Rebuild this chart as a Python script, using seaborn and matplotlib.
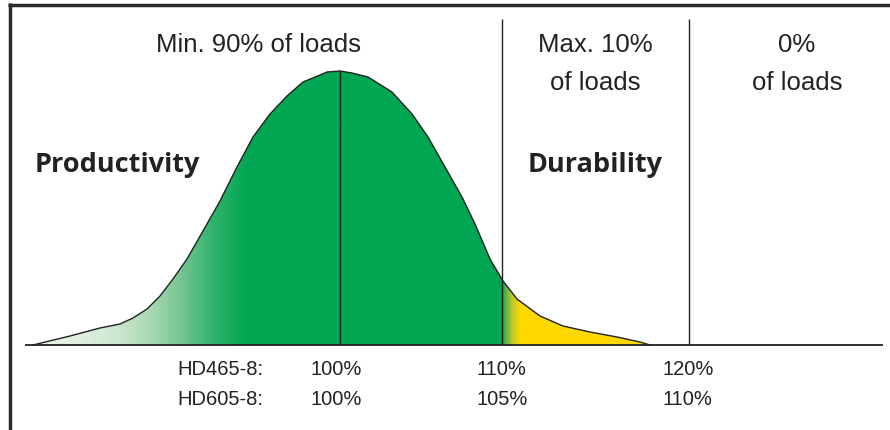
import numpy as np
import pandas as pd
import matplotlib
matplotlib.use("Agg")
import matplotlib.pyplot as plt
import seaborn as sns

# ---- data (x position along load axis, curve height) ----
curve_x = [33, 70, 100, 120, 133, 147, 160, 173, 187, 203, 220, 237, 253, 270, 287,
           303, 320, 327, 340, 352, 368, 392, 412, 428, 445, 462, 475, 490, 503, 517,
           540, 563, 590, 617, 640, 650]
curve_h = [0, 9, 17, 21, 27, 36, 49, 66, 86, 114, 144, 178, 208, 231, 249,
           263, 270, 273, 274, 272, 268, 253, 231, 208, 178, 148, 121, 86, 64, 46,
           29, 19, 13, 8, 3, 0]

peak_x = 340
limit_x = [502, 689]

zone_titles = ["Min. 90% of loads", "Max. 10%", "0%"]
zone_sub = ["of loads", "of loads"]
zone_names = ["Productivity", "Durability"]
models = ["HD465-8:", "HD605-8:"]
row_hd465 = ["100%", "110%", "120%"]
row_hd605 = ["100%", "105%", "110%"]

GREEN = "#00a651"
YELLOW = "#ffd800"

sns.set_theme(style="white")
plt.rcParams["font.family"] = ["Liberation Sans", "DejaVu Sans"]

fig = plt.figure(figsize=(8.9, 4.31), dpi=100)
ax = fig.add_axes([0, 0, 1, 1])
ax.set_axis_off()

df = pd.DataFrame({"x": curve_x, "h": curve_h})

# gradient fill clipped to the curve
stops_x = [33, 80, 120, 150, 180, 215, 248, 502, 506, 512, 520, 650]
stops_c = ["#eef6ee", "#e0efe0", "#cbe6cf", "#a9d9b3", "#78c594", "#2db26a", GREEN,
           GREEN, "#5fb044", "#b9c82e", YELLOW, YELLOW]
rgb = np.array([matplotlib.colors.to_rgb(c) for c in stops_c])
xs = np.linspace(33, 650, 1234)
img = np.stack([np.interp(xs, stops_x, rgb[:, k]) for k in range(3)], axis=-1)[None, :, :]
poly = ax.fill(df["x"], df["h"], facecolor="none", edgecolor="none")[0]
im = ax.imshow(img, extent=[33, 650, 0, 280], aspect="auto", interpolation="bilinear",
               origin="lower", zorder=1)
im.set_clip_path(poly)

sns.lineplot(data=df, x="x", y="h", ax=ax, estimator=None, sort=False,
             color="#222222", linewidth=1.0, zorder=3)

# vertical lines
ax.vlines(peak_x, 0, max(curve_h), color="#222222", linewidth=1.0, zorder=3)
ax.vlines(limit_x, 0, 326, color="#222222", linewidth=1.0, zorder=3)
# baseline
ax.hlines(0, 25, 883, color="#222222", linewidth=1.3, zorder=4)

# frame (top and left)
ax.plot([8, 890], [340.5, 340.5], color="#2b2b2b", linewidth=2.5, solid_capstyle="butt")
ax.plot([10.3, 10.3], [342, -85], color="#2b2b2b", linewidth=2.5, solid_capstyle="butt")

# texts
tcol = "#222222"
ax.text(258, 294, zone_titles[0], ha="center", va="baseline", fontsize=18.5, color=tcol)
ax.text(595, 294, zone_titles[1], ha="center", va="baseline", fontsize=18.5, color=tcol)
ax.text(797, 294, zone_titles[2], ha="center", va="baseline", fontsize=18.5, color=tcol)
ax.text(595, 256, zone_sub[0], ha="center", va="baseline", fontsize=18.5, color=tcol)
ax.text(797, 256, zone_sub[1], ha="center", va="baseline", fontsize=18.5, color=tcol)
ax.text(35, 174, zone_names[0], ha="left", va="baseline", fontsize=19.5, fontweight="bold",
        color=tcol, family=["Open Sans", "DejaVu Sans"])
ax.text(528, 174, zone_names[1], ha="left", va="baseline", fontsize=19.5, fontweight="bold",
        color=tcol, family=["Open Sans", "DejaVu Sans"])

lefts = [310, 477, 663]
for m, row, base in [(models[0], row_hd465, 346 - 375), (models[1], row_hd605, 346 - 405)]:
    ax.text(177, base, m, ha="left", va="baseline", fontsize=14.5, color=tcol)
    for lx, v in zip(lefts, row):
        ax.text(lx, base, v, ha="left", va="baseline", fontsize=14.5, color=tcol)

ax.set_xlim(0, 890)
ax.set_ylim(-85, 346)

fig.savefig("out.png", dpi=100, facecolor="white")
